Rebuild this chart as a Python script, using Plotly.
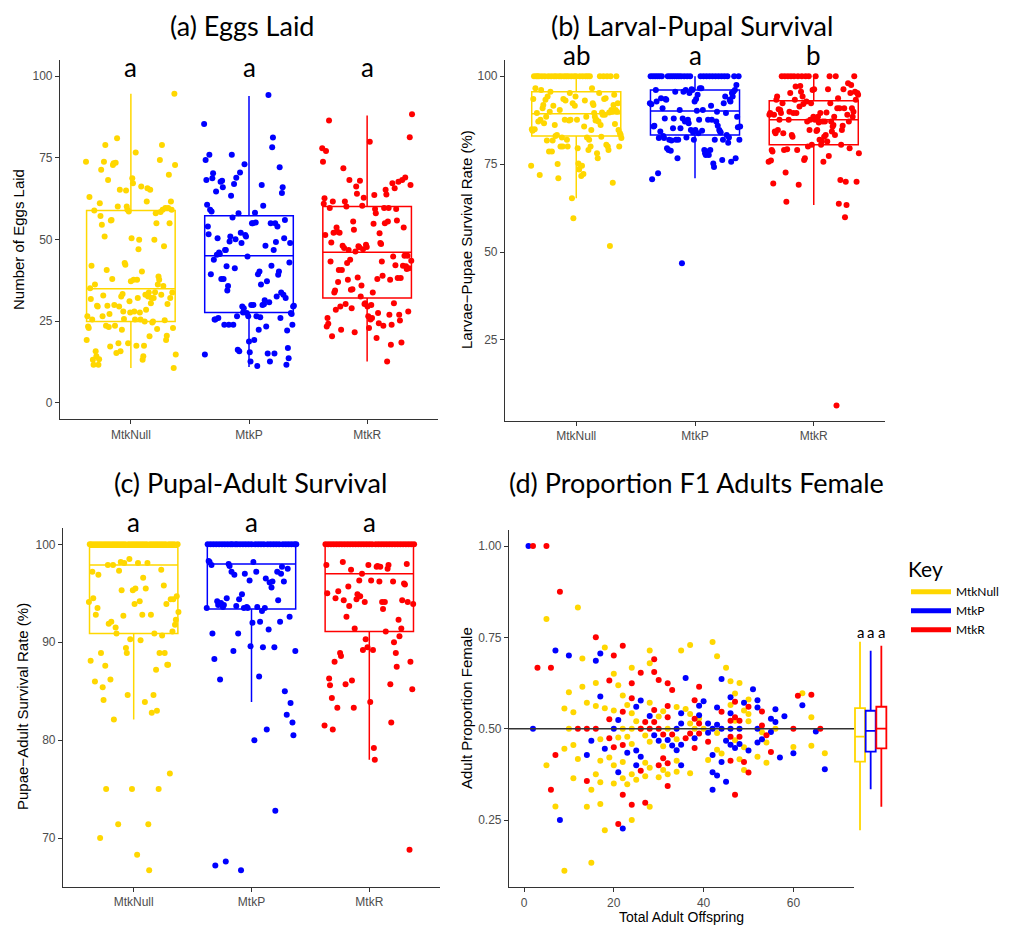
import numpy as np
import plotly.graph_objects as go

# page is rendered with the default 8px body margin -> compensate
OFF = 8
W, H = 1016 - OFF, 926 - OFF
def px(x): return (x - OFF) / W
def py(y): return 1 - (y - OFF) / H

groups = ["MtkNull", "MtkP", "MtkR"]
colors = ["#FFD700", "#0000FF", "#FF0000"]

# ---------------- (a) Eggs laid ----------------
eggs_null = [73.8, 19.3, 26.5, 23.4, 22.9, 63.0, 35.1, 31.8, 42.0, 25.5, 13.2, 11.7, 58.9, 36.2, 15.8, 14.3, 29.7, 29.5, 11.7, 13.4,
             61.1, 57.2, 71.3, 54.5, 26.5, 32.9, 73.8, 50.9, 78.9, 23.6, 40.7, 29.7, 68.2, 23.2, 27.2, 17.3, 55.8, 56.0, 37.9, 72.8,
             73.3, 30.0, 23.6, 73.5, 15.3, 81.0, 60.1, 18.3, 29.5, 65.2, 15.8, 32.6, 22.4, 33.3, 28.0, 25.7, 42.8, 42.3, 65.0, 60.1,
             59.1, 18.3, 58.6, 31.1, 27.7, 37.2, 50.4, 68.7, 67.2, 37.7, 28.0, 25.5, 76.6, 17.5, 37.7, 32.1, 47.0, 49.9, 27.7, 25.5,
             66.2, 40.2, 13.2, 14.3, 17.5, 24.9, 33.1, 28.5, 61.6, 65.7, 32.6, 33.8, 20.4, 65.2, 30.5, 32.1, 24.6, 24.9, 32.1, 49.9,
             33.9, 58.0, 55.0, 22.6, 36.2, 38.7, 37.7, 74.3, 58.4, 33.1, 78.9, 59.1, 35.8, 47.9, 25.3, 59.6, 19.3, 20.6, 30.3, 59.6,
             69.8, 55.0, 32.1, 61.6, 59.1, 33.8, 22.9, 10.7, 94.6, 72.8, 14.8]
eggs_p = [85.3, 14.8, 74.3, 68.2, 60.6, 54.0, 51.6, 75.9, 59.1, 39.4, 58.6, 68.7, 70.3, 43.8, 25.5, 25.5, 64.7, 45.3, 50.4, 26.0,
          46.0, 45.6, 67.7, 37.9, 68.0, 66.0, 37.9, 23.9, 46.8, 46.8, 41.8, 34.4, 35.8, 23.9, 49.4, 50.9, 63.4, 75.9, 56.7, 23.9,
          67.0, 41.2, 50.1, 68.9, 26.5, 16.3, 58.0, 15.8, 70.5, 52.1, 48.9, 29.5, 27.7, 29.0, 73.0, 51.4, 50.9, 27.5, 44.8, 26.5,
          18.8, 15.5, 12.7, 30.0, 55.0, 55.0, 30.0, 19.3, 58.2, 55.2, 26.5, 11.3, 39.4, 22.4, 40.2, 26.2, 36.2, 66.7, 30.0, 60.3,
          30.2, 31.4, 48.1, 23.4, 37.2, 15.1, 94.2, 30.8, 12.7, 55.0, 42.0, 78.2, 81.2, 46.8, 15.1, 55.0, 49.2, 32.6, 54.0, 39.2,
          40.2, 72.1, 26.0, 33.8, 64.2, 66.0, 33.1, 50.4, 56.0, 32.1, 11.7, 22.2, 16.8, 13.7, 43.0, 48.9, 27.5, 27.2, 23.9, 29.5, 29.7]
eggs_r = [77.9, 73.8, 60.9, 62.6, 51.4, 77.1, 23.4, 26.0, 24.2, 86.4, 59.6, 43.3, 49.1, 20.4, 61.6, 52.1, 33.8, 34.4, 28.5, 53.7,
          52.4, 37.0, 40.7, 52.1, 29.5, 22.4, 40.7, 48.1, 71.8, 47.4, 61.6, 30.3, 60.1, 42.8, 37.7, 46.8, 68.2, 43.8, 34.6, 29.0,
          34.8, 55.5, 53.0, 21.6, 46.3, 66.2, 64.0, 38.4, 47.9, 47.6, 68.0, 32.6, 35.9, 60.3, 47.0, 62.8, 30.3, 30.5, 48.4, 47.7,
          29.5, 26.5, 22.9, 79.9, 25.5, 30.0, 26.0, 33.8, 54.8, 63.6, 59.3, 58.0, 19.9, 37.9, 27.5, 24.4, 51.9, 48.9, 48.6, 43.3,
          38.9, 23.6, 59.6, 55.0, 65.2, 63.8, 12.7, 55.5, 59.6, 27.0, 37.7, 17.8, 23.9, 67.2, 44.8, 30.5, 65.7, 42.1, 59.3, 55.8,
          38.2, 67.7, 27.0, 25.2, 38.2, 18.5, 68.2, 42.0, 53.7, 45.0, 69.0, 41.8, 41.0, 45.0, 28.0, 41.2, 81.3, 66.7, 43.5, 88.3]
eggs_q1 = [24.9, 27.7, 32.1]
eggs_med = [34.9, 45.0, 46.1]
eggs_q3 = [58.9, 57.3, 60.1]
eggs_lo = [10.7, 11.0, 12.7]
eggs_hi = [94.6, 93.9, 87.9]
eggs_letters = ["a", "a", "a"]

# ---------------- (b) Larval-pupal survival ----------------
lp_null = [74.5, 84.9, 84.5, 93.5, 100, 84.9, 96.6, 100, 89.5, 100, 87.1, 100, 71.9, 87.6, 96.1, 100, 90.9, 91.8, 86.6, 100,
           93.3, 88.5, 81.7, 94.2, 100, 78.6, 89.9, 95.6, 100, 78.6, 81.7, 91.6, 100, 86.1, 83.0, 100, 83.3, 75.0, 71.0, 100,
           90.4, 80.0, 100, 82.6, 80.0, 93.5, 100, 87.6, 93.1, 100, 81.9, 80.0, 100, 87.4, 95.2, 87.6, 100, 65.3, 92.3, 59.6,
           100, 91.6, 94.2, 100, 87.6, 79.5, 75.2, 73.5, 100, 74.5, 71.6, 74.5, 100, 72.2, 85.7, 93.1, 100, 88.5, 82.6, 100,
           79.0, 81.9, 100, 80.0, 84.7, 96.6, 92.3, 91.8, 89.5, 88.5, 87.4, 87.6, 78.1, 76.7, 87.1, 95.2, 100, 86.1, 82.8, 89.7,
           89.0, 100, 93.5, 89.0, 93.7, 80.5, 100, 80.0, 79.0, 89.7, 51.7, 100, 90.4, 89.9, 69.7, 91.8, 94.7, 86.4, 90.4, 100,
           89.9, 92.3, 84.7, 80.0, 83.8, 83.3, 82.4]
lp_p = [92.3, 100, 92.0, 70.7, 100, 85.7, 85.9, 100, 96.1, 92.8, 100, 72.4, 82.4, 100, 84.3, 93.7, 100, 90.9, 83.0, 82.4,
        88.0, 93.5, 93.3, 79.5, 100, 79.0, 81.9, 100, 78.8, 81.7, 100, 85.2, 88.0, 100, 95.6, 81.9, 100, 76.7, 81.9, 100,
        90.4, 85.2, 100, 46.8, 88.0, 95.6, 100, 87.1, 96.1, 82.6, 100, 87.6, 86.6, 95.2, 100, 84.7, 96.3, 96.1, 84.0, 81.9,
        92.8, 84.7, 93.5, 90.2, 94.7, 83.8, 87.6, 96.6, 100, 96.6, 84.5, 90.4, 100, 79.0, 78.1, 77.6, 100, 78.6, 87.6, 77.6,
        100, 79.0, 91.6, 87.6, 100, 75.2, 74.2, 81.9, 100, 87.1, 89.9, 85.9, 100, 84.7, 84.3, 84.0, 100, 76.2, 81.9, 92.3,
        100, 94.2, 89.5, 83.3, 100, 81.1, 82.6, 93.3, 92.8, 75.7, 95.2, 94.2, 95.6, 100, 96.1, 76.7, 97.5, 88.5, 85.5, 100,
        81.9, 85.7]
lp_r = [75.7, 89.0, 89.5, 76.0, 79.0, 78.6, 69.5, 89.0, 84.3, 83.8, 93.3, 94.2, 84.7, 90.6, 87.6, 90.4, 89.5, 100, 92.3, 83.8,
        79.0, 100, 72.6, 64.3, 79.2, 100, 87.6, 89.9, 95.2, 100, 83.3, 82.8, 89.5, 100, 93.3, 97.1, 89.5, 79.0, 100, 69.1,
        91.4, 97.2, 95.6, 100, 94.2, 92.1, 76.2, 76.7, 100, 92.8, 87.1, 80.0, 100, 84.7, 87.6, 92.3, 80.5, 96.1, 88.5, 96.3,
        87.6, 100, 84.4, 84.7, 88.5, 86.8, 81.9, 89.5, 80.5, 81.4, 87.1, 75.7, 82.8, 87.1, 83.3, 89.7, 81.4, 96.3, 77.3, 100,
        92.3, 87.1, 84.3, 85.7, 86.1, 88.5, 83.3, 100, 6.4, 90.9, 93.7, 63.7, 90.9, 70.5, 80.5, 84.7, 85.9, 96.3, 90.9, 59.9,
        70.0, 63.4, 89.0, 98.0, 87.1, 79.5, 95.2, 97.5, 90.9, 88.5, 89.9, 100, 95.6, 93.3, 70.0, 95.2, 94.7, 78.1]
lp_q1 = [83.0, 83.3, 80.5]
lp_med = [89.3, 90.1, 87.6]
lp_q3 = [95.6, 96.1, 93.0]
lp_lo = [65.3, 71.0, 63.4]
lp_hi = [100, 100, 100]
lp_letters = ["ab", "a", "b"]

# ---------------- (c) Pupal-adult survival ----------------
pa_null = [94.1, 100, 88.1, 100, 97.2, 94.5, 100, 86.0, 92.8, 100, 93.5, 96.9, 100, 70.0, 88.9, 100, 85.4, 84.1, 100, 87.6,
           75.0, 100, 97.9, 91.9, 100, 86.2, 92.1, 100, 97.9, 82.1, 100, 91.5, 90.9, 100, 71.4, 97.3, 100, 98.2, 95.3, 100,
           92.7, 98.1, 100, 89.4, 88.9, 84.6, 100, 98.5, 90.3, 100, 75.0, 95.3, 100, 93.9, 95.5, 100, 68.3, 98.1, 100, 94.2,
           90.2, 100, 92.8, 96.6, 100, 83.9, 95.5, 100, 98.1, 71.4, 66.7, 100, 92.8, 82.8, 100, 84.6, 90.9, 100, 87.2, 83.0,
           100, 75.0, 88.9, 100, 97.4, 90.7, 100, 95.8, 88.9, 100, 93.9, 87.7, 87.7, 100, 76.6, 94.4, 100, 91.1, 94.4, 100,
           91.8, 92.3, 94.7, 100, 93.1]
pa_p = [93.5, 100, 98.3, 98.2, 100, 97.9, 90.9, 100, 88.3, 67.2, 100, 94.2, 93.8, 100, 86.2, 94.0, 100, 93.6, 93.8, 100,
        67.6, 94.5, 100, 98.0, 97.8, 100, 97.2, 100, 89.1, 96.9, 100, 93.7, 100, 90.9, 94.4, 100, 66.7, 94.9, 100, 93.5,
        97.0, 100, 93.6, 93.5, 100, 96.3, 89.6, 100, 92.0, 98.2, 80.0, 100, 97.2, 93.6, 100, 86.5, 92.1, 100, 93.2, 89.5,
        100, 93.5, 96.5, 81.1, 100, 91.3, 96.1, 100, 95.6, 96.2, 100, 89.5, 72.8, 100, 97.2, 94.3, 100, 92.1, 97.0, 97.7,
        100, 96.2, 85.0, 100, 82.6, 97.5, 100, 92.6, 83.8, 100, 81.8, 80.5, 100, 89.1, 100]
pa_r = [81.5, 100, 97.9, 95.0, 100, 86.3, 85.6, 100, 84.3, 81.1, 100, 88.0, 94.5, 100, 83.3, 95.2, 100, 88.9, 88.6, 100,
        98.2, 94.3, 100, 85.7, 92.6, 100, 95.7, 93.7, 100, 97.4, 86.1, 100, 83.3, 91.4, 100, 94.4, 94.9, 100, 96.3, 94.7,
        100, 97.0, 89.2, 100, 94.1, 90.3, 100, 89.5, 97.9, 100, 83.9, 96.3, 100, 89.2, 79.2, 78.0, 100, 97.7, 97.8, 100,
        96.2, 97.7, 100, 94.1, 93.4, 100, 94.1, 91.1, 100, 97.5, 97.9, 100, 85.7, 81.8, 100, 96.2, 90.0, 100, 88.9, 87.5,
        100, 92.3, 90.6, 100, 91.4, 94.3, 100, 96.0, 95.9, 100, 98.0, 94.1, 100, 68.8, 88.0, 100, 85.2, 93.9, 100]
pa_q1 = [90.9, 93.4, 91.1]
pa_med = [97.9, 98.0, 97.0]
pa_q3 = [99.7, 99.8, 99.8]
pa_lo = [82.1, 83.9, 78.0]
pa_hi = [100, 100, 100]
pa_letters = ["a", "a", "a"]

# ---------------- (d) Proportion F1 adults female ----------------
off_null = [5, 12, 5, 7, 9, 9, 9, 10, 10, 11, 11, 11, 12, 13, 13, 14, 14, 15, 15, 16, 16, 16, 17, 17, 17, 17, 18, 18, 18, 19,
            20, 20, 20, 20, 21, 21, 22, 22, 22, 22, 23, 23, 23, 24, 24, 24, 24, 24, 24, 25, 25, 26, 27, 27, 27, 28, 28, 28, 28, 28,
            28, 30, 30, 31, 31, 31, 32, 32, 34, 34, 34, 34, 35, 36, 37, 37, 37, 37, 38, 39, 40, 41, 42, 43, 43, 43, 44, 45, 46, 46,
            47, 47, 47, 48, 48, 49, 49, 49, 50, 50, 50, 52, 53, 54, 54, 56, 60, 62, 64, 64, 67]
fem_null = [0.80, 0.832, 0.40, 0.287, 0.555, 0.445, 0.111, 0.60, 0.50, 0.545, 0.455, 0.364, 0.417, 0.692, 0.615, 0.571, 0.286,
            0.333, 0.133, 0.625, 0.562, 0.375, 0.471, 0.412, 0.353, 0.294, 0.722, 0.556, 0.222, 0.421, 0.65, 0.55, 0.40, 0.35,
            0.619, 0.476, 0.591, 0.50, 0.409, 0.364, 0.565, 0.478, 0.348, 0.667, 0.542, 0.50, 0.458, 0.375, 0.25, 0.52, 0.36,
            0.50, 0.481, 0.407, 0.37, 0.714, 0.679, 0.571, 0.464, 0.393, 0.286, 0.533, 0.367, 0.548, 0.452, 0.387, 0.50, 0.375,
            0.559, 0.471, 0.412, 0.382, 0.714, 0.554, 0.729, 0.54, 0.514, 0.378, 0.50, 0.528, 0.50, 0.414, 0.737, 0.698, 0.488,
            0.442, 0.432, 0.667, 0.630, 0.565, 0.596, 0.468, 0.522, 0.625, 0.416, 0.55, 0.449, 0.387, 0.58, 0.54, 0.52, 0.423,
            0.49, 0.462, 0.407, 0.50, 0.45, 0.597, 0.531, 0.453, 0.433]
off_p = [1, 2, 7, 8, 10, 14, 15, 16, 17, 17, 18, 20, 21, 21, 22, 23, 25, 25, 25, 26, 26, 28, 29, 30, 32, 33, 34, 34, 35, 35,
         35, 35, 36, 38, 39, 39, 40, 41, 41, 42, 42, 42, 42, 43, 43, 44, 44, 44, 43, 45, 45, 46, 46, 46, 46, 47, 48, 48, 49, 50,
         51, 52, 52, 52, 52, 53, 55, 55, 56, 56, 57, 58, 60, 62, 65, 67]
fem_p = [1.00, 0.50, 0.714, 0.25, 0.70, 0.428, 0.467, 0.686, 0.706, 0.588, 0.445, 0.50, 0.524, 0.381, 0.227, 0.434, 0.56, 0.44,
         0.40, 0.577, 0.423, 0.535, 0.482, 0.467, 0.469, 0.454, 0.50, 0.441, 0.542, 0.514, 0.456, 0.40, 0.639, 0.474, 0.563,
         0.537, 0.575, 0.514, 0.489, 0.50, 0.428, 0.381, 0.333, 0.511, 0.372, 0.636, 0.50, 0.409, 0.558, 0.467, 0.355, 0.586,
         0.542, 0.50, 0.456, 0.447, 0.50, 0.458, 0.571, 0.44, 0.608, 0.578, 0.558, 0.50, 0.462, 0.471, 0.491, 0.527, 0.553,
         0.518, 0.421, 0.534, 0.433, 0.564, 0.492, 0.389]
off_r = [2, 5, 3, 6, 6, 7, 8, 12, 14, 14, 16, 16, 19, 19, 19, 20, 20, 21, 22, 22, 22, 22, 24, 24, 24, 26, 26, 26, 27, 27, 28,
         29, 29, 29, 29, 30, 30, 30, 31, 31, 32, 32, 32, 32, 32, 33, 33, 36, 38, 38, 38, 39, 39, 39, 37, 41, 44, 46, 46, 46, 47,
         47, 47, 48, 48, 49, 50, 50, 53, 53, 54, 55, 60, 61, 64, 66]
fem_r = [1.00, 1.00, 0.667, 0.667, 0.333, 0.428, 0.875, 0.50, 0.50, 0.357, 0.75, 0.50, 0.632, 0.526, 0.474, 0.70, 0.449, 0.239,
         0.727, 0.546, 0.455, 0.319, 0.624, 0.583, 0.292, 0.653, 0.50, 0.385, 0.518, 0.297, 0.50, 0.69, 0.655, 0.551, 0.518,
         0.633, 0.50, 0.40, 0.484, 0.419, 0.624, 0.562, 0.531, 0.405, 0.343, 0.606, 0.484, 0.474, 0.578, 0.527, 0.447, 0.615,
         0.514, 0.487, 0.487, 0.464, 0.546, 0.522, 0.478, 0.412, 0.574, 0.531, 0.319, 0.522, 0.478, 0.409, 0.56, 0.38, 0.509,
         0.547, 0.482, 0.436, 0.50, 0.59, 0.593, 0.50]
sex_q1 = [0.410, 0.437, 0.446]
sex_med = [0.478, 0.494, 0.500]
sex_q3 = [0.556, 0.549, 0.560]
sex_lo = [0.222, 0.334, 0.286]
sex_hi = [0.738, 0.713, 0.727]
sex_letters = ["a", "a", "a"]

# ---------------- styling ----------------
TICK_FONT = dict(family="Liberation Sans, Arial, sans-serif", size=12, color="#4D4D4D")
AX_COLOR = "#333333"
LATO = "Lato, 'Open Sans', sans-serif"

fig = go.Figure()

def add_box_panel(xa, ya, series, q1, med, q3, lo, hi):
    for i, (vals, col) in enumerate(zip(series, colors)):
        pos = i + 1
        fig.add_trace(go.Box(x=[pos], q1=[q1[i]], median=[med[i]], q3=[q3[i]], lowerfence=[lo[i]], upperfence=[hi[i]],
                             width=0.75, whiskerwidth=0, boxpoints=False, line=dict(color=col, width=1.5),
                             fillcolor="rgba(255,255,255,0)", xaxis=xa, yaxis=ya, showlegend=False, hoverinfo="skip"))
        n = len(vals)
        offs = np.linspace(-0.38, 0.38, n)
        fig.add_trace(go.Scatter(x=pos + offs, y=vals, mode="markers", marker=dict(color=col, size=6),
                                 xaxis=xa, yaxis=ya, showlegend=False, hoverinfo="skip"))

add_box_panel("x", "y", [eggs_null, eggs_p, eggs_r], eggs_q1, eggs_med, eggs_q3, eggs_lo, eggs_hi)
add_box_panel("x2", "y2", [lp_null, lp_p, lp_r], lp_q1, lp_med, lp_q3, lp_lo, lp_hi)
add_box_panel("x3", "y3", [pa_null, pa_p, pa_r], pa_q1, pa_med, pa_q3, pa_lo, pa_hi)

# panel d scatter
for xs, ys, col in [(off_null, fem_null, colors[0]), (off_p, fem_p, colors[1]), (off_r, fem_r, colors[2])]:
    fig.add_trace(go.Scatter(x=xs, y=ys, mode="markers", marker=dict(color=col, size=6),
                             xaxis="x4", yaxis="y4", showlegend=False, hoverinfo="skip"))
# side boxes for d
for i, col in enumerate(colors):
    fig.add_trace(go.Box(x=[i + 1], q1=[sex_q1[i]], median=[sex_med[i]], q3=[sex_q3[i]], lowerfence=[sex_lo[i]],
                         upperfence=[sex_hi[i]], width=0.94, whiskerwidth=0, boxpoints=False,
                         line=dict(color=col, width=1.8), fillcolor="rgba(255,255,255,0)",
                         xaxis="x5", yaxis="y5", showlegend=False, hoverinfo="skip"))
# legend entries
for g, col in zip(groups, colors):
    fig.add_trace(go.Scatter(x=[None], y=[None], mode="lines", line=dict(color=col, width=5), name=g,
                             xaxis="x5", yaxis="y5", showlegend=True))

def axis_common(**kw):
    d = dict(showline=True, linecolor=AX_COLOR, linewidth=1.2, ticks="outside", ticklen=4, tickwidth=1.2,
             tickcolor=AX_COLOR, tickfont=TICK_FONT, showgrid=False, zeroline=False, fixedrange=True)
    d.update(kw)
    return d

panels = {
    "a": (60, 438, 60, 419, [-4.9, 104.9], [0, 25, 50, 75, 100]),
    "b": (505, 885, 60, 420.7, [2.05, 104.6], [25, 50, 75, 100]),
    "c": (63, 440, 528, 886.7, [65.03, 101.67], [70, 80, 90, 100]),
}
layout_axes = {}
for k, (name, (x0, x1, yt, yb, yr, yt_vals)) in enumerate(panels.items()):
    sfx = "" if k == 0 else str(k + 1)
    layout_axes["xaxis" + sfx] = axis_common(domain=[px(x0), px(x1)], range=[0.4, 3.6], tickvals=[1, 2, 3],
                                             ticktext=groups, anchor="y" + sfx)
    layout_axes["yaxis" + sfx] = axis_common(domain=[py(yb), py(yt)], range=yr, tickvals=yt_vals,
                                             anchor="x" + sfx)

layout_axes["xaxis4"] = axis_common(domain=[px(509), px(854)], range=[-3.34, 73.5], tickvals=[0, 20, 40, 60], anchor="y4")
layout_axes["yaxis4"] = axis_common(domain=[py(887), py(530)], range=[0.0666, 1.0438], tickvals=[0.25, 0.5, 0.75, 1.0],
                                    ticktext=["0.25", "0.50", "0.75", "1.00"], anchor="x4")
layout_axes["xaxis5"] = dict(domain=[px(850), px(892)], range=[0.061, 4.0], visible=False, anchor="y5", fixedrange=True)
layout_axes["yaxis5"] = dict(domain=[py(887), py(530)], range=[0.0666, 1.0438], visible=False, anchor="x5", fixedrange=True)

annotations = []
def ann(text, x, y, size, family=LATO, color="black", angle=0, xref="paper", yref="paper", yanchor="middle"):
    annotations.append(dict(text=text, x=x, y=y, xref=xref, yref=yref, showarrow=False, textangle=angle,
                            font=dict(family=family, size=size, color=color), xanchor="center", yanchor=yanchor,
                            borderpad=0))

# panel titles
ann("(a) Eggs Laid", px(242), 1.0, 27, yanchor="top")
ann("(b) Larval-Pupal Survival", px(692), 1.0, 27, yanchor="top")
ann("(c) Pupal-Adult Survival", px(250), py(482), 27)
ann("(d) Proportion F1 Adults Female", px(696), py(482), 27)

# significance letters
for i in range(3):
    ann(eggs_letters[i], i + 1, py(67), 26, xref="x")
    ann(lp_letters[i], i + 1, py(55), 26, xref="x2")
    ann(pa_letters[i], i + 1, py(522), 26, xref="x3")
    ann(sex_letters[i], i + 1, py(632), 15, xref="x5")

# axis titles
AT = "Liberation Sans, Arial, sans-serif"
ann("Number of Eggs Laid", px(18), py(240), 15, family=AT, angle=-90)
ann("Larvae\u2212Pupae Survival Rate (%)", px(466), py(240), 15, family=AT, angle=-90)
ann("Pupae\u2212Adult Survival Rate (%)", px(22), py(707), 15, family=AT, angle=-90)
ann("Adult Proportion Female", px(466), py(708), 15, family=AT, angle=-90)
ann("Total Adult Offspring", px(681), py(917), 14, family=AT)

fig.update_layout(
    width=W, height=H, margin=dict(l=0, r=0, t=0, b=0),
    paper_bgcolor="white", plot_bgcolor="rgba(0,0,0,0)",
    boxmode="overlay",
    annotations=annotations,
    shapes=[dict(type="line", xref="x4 domain", yref="y4", x0=0, x1=1, y0=0.5, y1=0.5,
                 line=dict(color="#333333", width=1.5), layer="above")],
    legend=dict(x=px(906), y=py(550), xanchor="left", yanchor="top",
                title=dict(text="Key", font=dict(family=LATO, size=21, color="black")),
                font=dict(family=LATO, size=12, color="black"),
                bgcolor="rgba(0,0,0,0)", tracegroupgap=0, itemwidth=40),
    **layout_axes,
)

fig.write_html("out.html")
